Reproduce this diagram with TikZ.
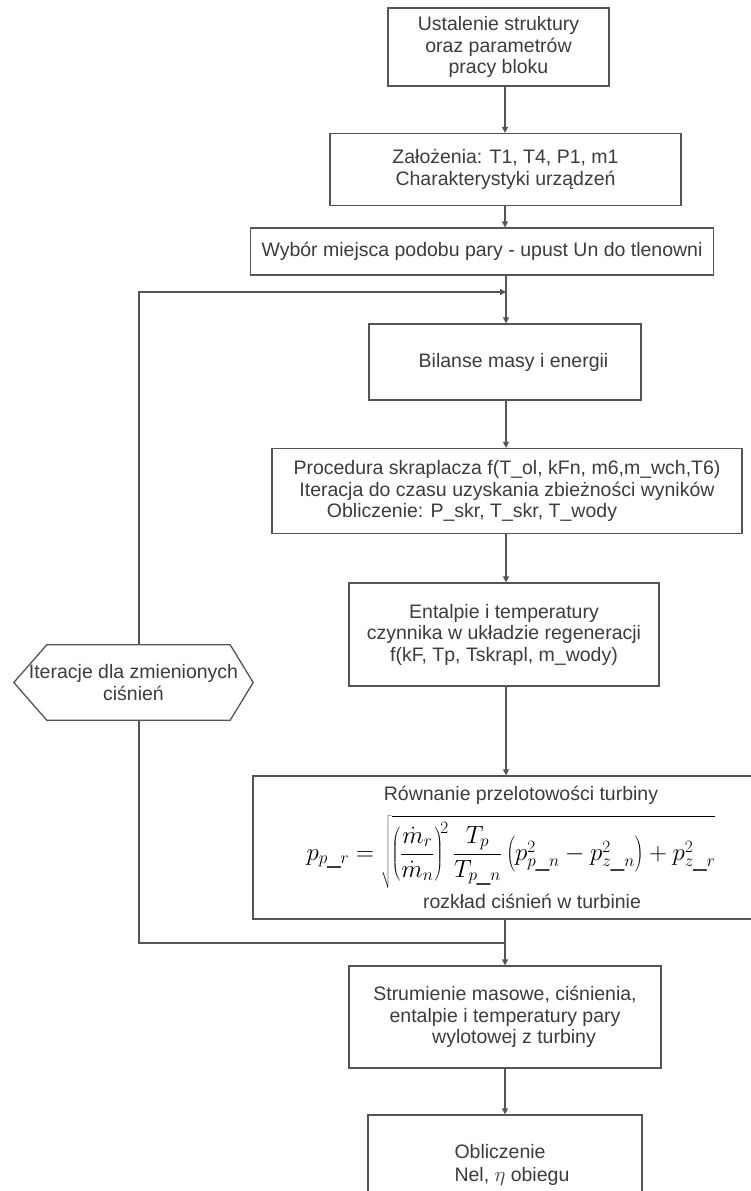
\documentclass[tikz,border=0pt]{standalone}
\usepackage{fontspec}
\setmainfont{Liberation Sans}
\usetikzlibrary{arrows.meta}
\definecolor{ln}{HTML}{555555}
\definecolor{tx}{HTML}{3C3C3C}
\begin{document}
\begin{tikzpicture}[x=1pt,y=-1pt,
  box/.style={draw=ln, line width=1.3pt, rectangle, inner sep=0pt, text=tx, align=center,
    font=\fontsize{19.5}{21.5}\selectfont},
  conn/.style={draw=ln, line width=1.3pt},
  arr/.style={conn, -{Triangle[length=6pt,width=6pt]}}]
\useasboundingbox (0,0) rectangle (751,1191);
\fill[white] (0,0) rectangle (751,1191);
\begin{scope}
\clip (0,0) rectangle (751,1191);
% boxes: center, size
\node[box, minimum width=221pt, minimum height=78pt] (b1) at (498.5,47) {Ustalenie struktury\\oraz parametrów\\pracy bloku};
\node[box, minimum width=351pt, minimum height=72pt] (b2) at (505.5,169.5) {Założenia: T1, T4, P1, m1\\Charakterystyki urządzeń};
\node[box, minimum width=463pt, minimum height=47pt] (b3) at (482,251.5) {Wybór miejsca podobu pary - upust Un do tlenowni};
\node[box, minimum width=272pt, minimum height=76pt] (b4) at (505,362) {\hspace*{17pt}Bilanse masy i energii};
\node[box, minimum width=470pt, minimum height=85pt] (b5) at (507,491) {Procedura skraplacza f(T\_ol, kFn, m6,m\_wch,T6)\\Iteracja do czasu uzyskania zbieżności wyników\\Obliczenie: P\_skr, T\_skr, T\_wody\hspace*{70pt}};
\node[box, minimum width=310pt, minimum height=103pt] (b6) at (504,634.5) {Entalpie i temperatury\\czynnika w układzie regeneracji\\f(kF, Tp, Tskrapl, m\_wody)};
\node[box, minimum width=540pt, minimum height=143pt] (b7) at (523,847.5) {};
\node[text=tx, font=\fontsize{19.5}{21.5}\selectfont] (t7a) at (521,795) {Równanie przelotowości turbiny};
\node[text=tx, font=\fontsize{19.5}{21.5}\selectfont] (t7b) at (532,901) {rozkład ciśnień w turbinie};
\node[text=black, font=\fontsize{24}{28}\selectfont, inner sep=0pt] (t7f) at (511,852)
  {$\displaystyle p_{p\_r}=\sqrt{\left(\frac{\dot m_r}{\dot m_n}\right)^{\!2}\frac{T_p}{T_{p\_n}}\left(p^2_{p\_n}-p^2_{z\_n}\right)+p^2_{z\_r}}$};
\node[box, minimum width=312pt, minimum height=102pt] (b8) at (505,1017) {Strumienie masowe, ciśnienia,\\entalpie i temperatury pary\\\hspace*{18pt}wylotowej z turbiny};
\node[box, minimum width=274pt, minimum height=120pt] (b9) at (505,1175) {};
\node[text=tx, align=left, font=\fontsize{19.5}{22.5}\selectfont, anchor=north west] (t9) at (451,1141) {Obliczenie\\Nel, $\eta$ obiegu};
% hexagon
\node[inner sep=0pt, minimum width=239pt, minimum height=75pt, text=tx, align=center,
  font=\fontsize{19.5}{21.5}\selectfont] (hex) at (133.5,682.5) {Iteracje dla zmienionych\\ciśnień};
\draw[conn] (hex.west) -- ([xshift=33pt]hex.north west) -- ([xshift=-23pt]hex.north east) -- (hex.east)
  -- ([xshift=-23pt]hex.south east) -- ([xshift=33pt]hex.south west) -- cycle;
% connectors
\draw[arr] (b1.south -| 505,0) -- (b2.north -| 505,0);
\draw[arr] (b2.south -| 505,0) -- (b3.north -| 505,0);
\draw[arr] (b3.south -| 506,0) -- (b4.north -| 506,0);
\draw[arr] (b4.south -| 506,0) -- (b5.north -| 506,0);
\draw[arr] (b5.south -| 506,0) -- (b6.north -| 506,0);
\draw[arr] (b6.south -| 506,0) -- (b7.north -| 506,0);
\draw[arr] (b7.south -| 505,0) -- (b8.north -| 505,0);
\draw[arr] (b8.south -| 505,0) -- (b9.north -| 505,0);
% loop
\coordinate (lb) at (505,943);
\coordinate (lt) at (506,292);
\draw[conn] (lb) -- (139,943) -- (hex.south -| 139,0);
\draw[arr] (hex.north -| 139,0) -- (139,292) -- (lt);
\end{scope}
\end{tikzpicture}
\end{document}
